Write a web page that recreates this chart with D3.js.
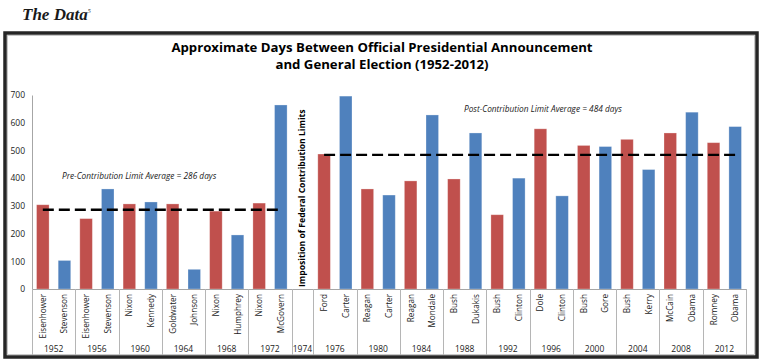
<!DOCTYPE html>
<html><head><meta charset="utf-8">
<script src="https://cdn.jsdelivr.net/npm/d3@7"></script>
<style>body{margin:0;background:#fff;}svg{display:block;}</style>
</head><body>
<svg id="c" width="766" height="363"></svg>
<script>
// ---- data ----
const years = ["1952","1956","1960","1964","1968","1972","1974","1976","1980","1984","1988","1992","1996","2000","2004","2008","2012"];
const candidates = [
  ["Eisenhower","Stevenson"],["Eisenhower","Stevenson"],["Nixon","Kennedy"],["Goldwater","Johnson"],
  ["Nixon","Humphrey"],["Nixon","McGovern"],[],["Ford","Carter"],["Reagan","Carter"],["Reagan","Mondale"],
  ["Bush","Dukakis"],["Bush","Clinton"],["Dole","Clinton"],["Bush","Gore"],["Bush","Kerry"],["McCain","Obama"],["Romney","Obama"]
];
const days = [
  [304,103],[254,361],[307,314],[307,71],[281,195],[310,664],[],[487,696],[361,339],[390,628],
  [397,563],[268,400],[578,336],[518,514],[540,431],[563,638],[528,586]
];
const parties = ["R","D"];
const yTicks = [0,100,200,300,400,500,600,700];
const preAverage = 286, postAverage = 484;
const preYears = ["1952","1956","1960","1964","1968","1972"];
const postYears = ["1976","1980","1984","1988","1992","1996","2000","2004","2008","2012"];
const title = ["Approximate Days Between Official Presidential Announcement","and General Election (1952-2012)"];
const dividerText = "Imposition of Federal  Contribution Limits";
const colors = {R:"#C0504D", D:"#4F81BD"};

// ---- build slots ----
const slots = [];
years.forEach((yr,i)=>{
  if (candidates[i].length===0) slots.push({id:yr+"-0", year:yr, name:"", value:null, party:null});
  candidates[i].forEach((n,j)=>slots.push({id:yr+"-"+j, year:yr, name:n, value:days[i][j], party:parties[j]}));
});

const svg = d3.select("#c");
const L=32, R=746, T=95, B=289;
const x = d3.scaleBand().domain(slots.map(d=>d.id)).range([L,R]).paddingInner(0.42).paddingOuter(0.21);
const y = d3.scaleLinear().domain([0,700]).range([B,T]);
const font = "'Open Sans', 'Liberation Sans', sans-serif";

// header
const hd = svg.append("text").attr("x",22).attr("y",20).attr("font-family","'Liberation Serif', 'DejaVu Serif', serif")
  .attr("font-style","italic").attr("font-weight","bold").attr("font-size",17).attr("fill","#1a1a1a");
hd.append("tspan").text("The Data");
hd.append("tspan").attr("font-size",6).attr("dy",-7).attr("font-weight","normal").text("5");

// frame
svg.append("rect").attr("x",5).attr("y",33).attr("width",752).attr("height",324)
  .attr("fill","none").attr("stroke","#262626").attr("stroke-width",3.5);
svg.append("rect").attr("x",7.5).attr("y",35.5).attr("width",747).attr("height",319)
  .attr("fill","none").attr("stroke","#bbb").attr("stroke-width",0.8);

// title
svg.append("g").selectAll("text").data(title).join("text")
  .attr("x",382).attr("y",(d,i)=>52+i*17).attr("text-anchor","middle")
  .attr("font-family",font).attr("font-weight","bold").attr("font-size",13.2).attr("fill","#000").text(d=>d);

// y axis
const yAxis = d3.axisLeft(y).tickValues(yTicks).tickSize(0).tickPadding(7);
const ya = svg.append("g").attr("transform",`translate(${L},0)`).call(yAxis);
ya.select(".domain").attr("stroke","#a6a6a6");
ya.selectAll("text").attr("font-family",font).attr("font-size",8.5).attr("fill","#222");

// bars
svg.append("g").selectAll("rect").data(slots.filter(d=>d.value!==null)).join("rect")
  .attr("x",d=>x(d.id)).attr("width",x.bandwidth())
  .attr("y",d=>y(d.value)).attr("height",d=>B-y(d.value))
  .attr("fill",d=>colors[d.party]).attr("stroke","rgba(255,255,255,0.35)").attr("stroke-width",0.8);

// x axis line
svg.append("line").attr("x1",L).attr("x2",R).attr("y1",B+0.5).attr("y2",B+0.5).attr("stroke","#a6a6a6");

// group separators
const step = x.step();
const bounds = [];
years.forEach(yr=>{
  const s = slots.filter(d=>d.year===yr);
  bounds.push({year:yr, x0:x(s[0].id)-x.paddingInner()*step/2, x1:x(s[s.length-1].id)+x.bandwidth()+x.paddingInner()*step/2});
});
const sepX = [L].concat(bounds.map(b=>b.x1)); sepX[sepX.length-1]=R;
svg.append("g").selectAll("line").data(sepX).join("line")
  .attr("x1",d=>Math.round(d)+0.5).attr("x2",d=>Math.round(d)+0.5).attr("y1",B).attr("y2",355)
  .attr("stroke","#b5b5b5");

// candidate names
svg.append("g").selectAll("text").data(slots.filter(d=>d.name)).join("text")
  .attr("transform",d=>`translate(${x(d.id)+x.bandwidth()/2+3},294) rotate(-90)`)
  .attr("text-anchor","end").attr("font-family",font).attr("font-size",8.2).attr("fill","#1a1a1a").text(d=>d.name);

// year labels
svg.append("g").selectAll("text").data(bounds).join("text")
  .attr("x",d=>(d.x0+d.x1)/2).attr("y",352).attr("text-anchor","middle")
  .attr("font-family",font).attr("font-size",8.5).attr("fill","#222").text(d=>d.year);

// average lines
function avgLine(ys, v){
  const s = slots.filter(d=>ys.includes(d.year));
  svg.append("line").attr("x1",x(s[0].id)+x.bandwidth()/2).attr("x2",x(s[s.length-1].id)+x.bandwidth()/2)
    .attr("y1",y(v)).attr("y2",y(v)).attr("stroke","#000").attr("stroke-width",2.4).attr("stroke-dasharray","11,5");
}
avgLine(preYears, preAverage);
avgLine(postYears, postAverage);

svg.append("text").attr("x",62).attr("y",179).attr("font-family",font).attr("font-style","italic")
  .attr("font-size",8.3).attr("fill","#222").text(`Pre-Contribution Limit Average = ${preAverage} days`);
svg.append("text").attr("x",464).attr("y",112).attr("font-family",font).attr("font-style","italic")
  .attr("font-size",8.3).attr("fill","#222").text(`Post-Contribution Limit Average = ${postAverage} days`);

// divider text
const div = slots.find(d=>d.year==="1974");
svg.append("text").attr("transform",`translate(${x(div.id)+x.bandwidth()/2+3},287) rotate(-90)`)
  .attr("text-anchor","start").attr("font-family",font).attr("font-weight","bold").attr("font-size",8.6)
  .attr("fill","#000").text(dividerText);
</script>
</body></html>
